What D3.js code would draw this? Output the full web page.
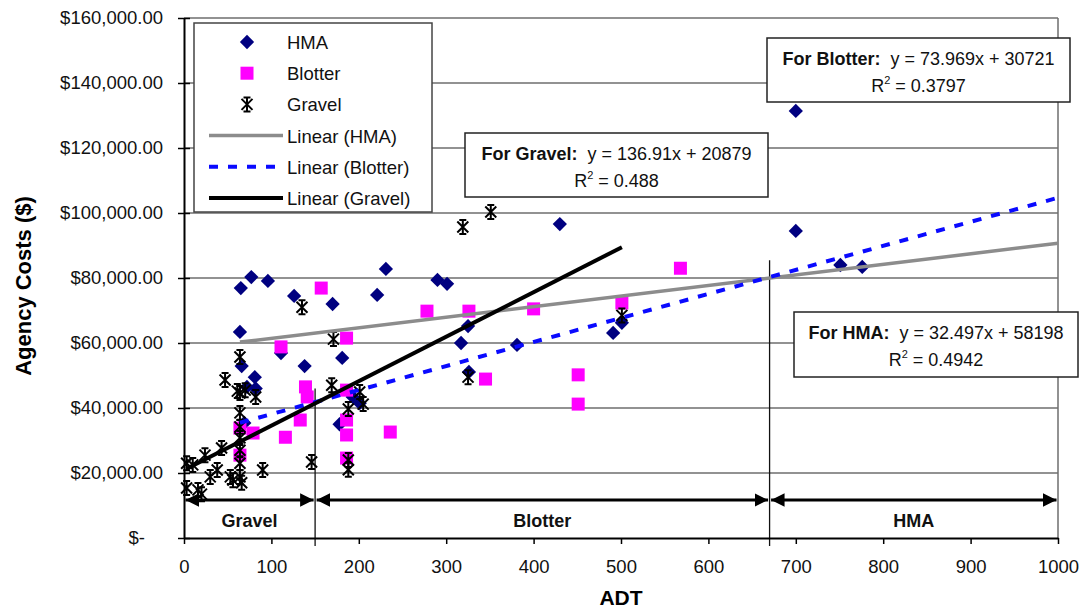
<!DOCTYPE html>
<html>
<head>
<meta charset="utf-8">
<script src="https://cdn.jsdelivr.net/npm/d3@7.9.0/dist/d3.min.js"></script>
<style>
  body { margin: 0; background: #fff; }
  svg { display: block; font-family: Arial, "Liberation Sans", sans-serif; }
</style>
</head>
<body>
<svg id="chart" width="1081" height="611"></svg>
<script>
// [ADT, agency cost in $1000]
const hmaPoints = [
  [77, 80.3], [65, 76.9], [96, 79.1], [126, 74.5], [170, 72], [64, 63.4], [66, 52.9],
  [111, 56.9], [138, 52.9], [81, 49.5], [72, 46.5], [82, 46], [69, 35.4], [231, 82.8],
  [221, 74.8], [290, 79.4], [301, 78.2], [430, 96.6], [181, 55.4], [325, 65.2], [317, 60],
  [381, 59.4], [491, 63.1], [501, 66.2], [326, 51.1], [201, 41.5], [178, 35], [193, 43.4],
  [700, 131.4], [700, 94.5], [751, 84], [776, 83.4]
];
const blotterPoints = [
  [157, 76.9], [111, 58.8], [139, 46.5], [141, 43.4], [133, 36.3], [116, 31], [64, 33.8],
  [79, 32.3], [64, 25.5], [186, 61.5], [186, 45.5], [186, 36.3], [186, 31.7], [186, 24.6],
  [236, 32.6], [278, 69.8], [326, 69.8], [400, 70.5], [345, 48.9], [451, 50.2], [451, 41.2],
  [501, 72.3], [568, 83]
];
const gravelPoints = [
  [3, 23], [3, 15.4], [10, 22.5], [24, 25.5], [43, 27.7], [30, 18.8], [38, 20.9], [53, 18.8],
  [16, 14.8], [20, 13.5], [56, 17.8], [66, 17], [47, 48.6], [61, 45.2], [70, 45.5], [82, 43.4],
  [64, 55.7], [64, 44.6], [64, 38.5], [64, 34.2], [64, 30.8], [64, 27], [64, 23], [64, 18.8],
  [90, 20.9], [135, 71], [146, 23.4], [169, 47], [171, 61.2], [188, 39.7], [188, 24], [188, 21],
  [201, 44.9], [205, 41.2], [325, 49.5], [319, 95.7], [351, 100.3], [501, 68.5]
];

// trendlines: slope, intercept, x range
const trends = [
  { name: 'Linear (HMA)', slope: 32.497, intercept: 58198, from: 64, to: 1000, color: '#8c8c8c', width: 3.5, dash: null },
  { name: 'Linear (Blotter)', slope: 73.969, intercept: 30721, from: 64, to: 1000, color: '#0a0aff', width: 4, dash: '9,10' },
  { name: 'Linear (Gravel)', slope: 136.91, intercept: 20879, from: 3, to: 501, color: '#000', width: 4, dash: null }
];

const yTicks = [0, 20000, 40000, 60000, 80000, 100000, 120000, 140000, 160000];
const xTicks = [0, 100, 200, 300, 400, 500, 600, 700, 800, 900, 1000];

// service ranges along the ADT axis
const zones = [
  { label: 'Gravel', from: 0, to: 150 },
  { label: 'Blotter', from: 150, to: 670 },
  { label: 'HMA', from: 670, to: 1000 }
];
const zoneEdges = [[150, 46000], [670, 85500]];
const zoneArrowY = 11700;

const equations = [
  { label: 'For Gravel:', eq: '  y = 136.91x + 20879', r2: '0.488', box: [465, 133, 303, 64] },
  { label: 'For Blotter:', eq: '  y = 73.969x + 30721', r2: '0.3797', box: [767, 38, 303, 64] },
  { label: 'For HMA:', eq: '  y = 32.497x + 58198', r2: '0.4942', box: [794, 312, 284, 65] }
];

const svg = d3.select('#chart');
const x = d3.scaleLinear().domain([0, 1000]).range([184, 1058]);
const y = d3.scaleLinear().domain([0, 160000]).range([538, 18]);

// gridlines
svg.append('g')
  .selectAll('line')
  .data(yTicks.slice(1))
  .join('line')
  .attr('x1', x(0)).attr('x2', x(1000))
  .attr('y1', d => y(d)).attr('y2', d => y(d))
  .attr('stroke', '#6e6e6e').attr('stroke-width', 1.5);

// right border
svg.append('line')
  .attr('x1', x(1000)).attr('x2', x(1000))
  .attr('y1', y(160000)).attr('y2', y(0))
  .attr('stroke', '#6e6e6e').attr('stroke-width', 1.5);

// zone separators
svg.append('g')
  .selectAll('line')
  .data(zoneEdges)
  .join('line')
  .attr('x1', d => x(d[0])).attr('x2', d => x(d[0]))
  .attr('y1', d => y(d[1])).attr('y2', y(0) + 8)
  .attr('stroke', '#111').attr('stroke-width', 1.3);

// axes
const yAxis = svg.append('g')
  .attr('transform', `translate(${x(0)},0)`)
  .call(d3.axisLeft(y).tickValues(yTicks).tickSizeInner(6).tickSizeOuter(0)
    .tickFormat(d => d === 0 ? '$-' : d3.format('$,.2f')(d)));
yAxis.select('.domain').attr('stroke', '#000').attr('stroke-width', 2);
yAxis.selectAll('.tick line').attr('x2', 6).attr('x1', -6).attr('stroke-width', 1.5);
yAxis.selectAll('.tick text')
  .attr('x', d => d === 0 ? -39 : -21)
  .attr('font-size', 18.5).attr('fill', '#111')
  .attr('font-family', 'Arial, "Liberation Sans", sans-serif');

const xAxis = svg.append('g')
  .attr('transform', `translate(0,${y(0)})`)
  .call(d3.axisBottom(x).tickValues(xTicks).tickSizeInner(6).tickSizeOuter(0).tickFormat(d3.format('d')));
xAxis.select('.domain').attr('stroke', '#000').attr('stroke-width', 2);
xAxis.selectAll('.tick line').attr('stroke-width', 1.5);
xAxis.selectAll('.tick text')
  .attr('y', 22)
  .attr('font-size', 18.5).attr('fill', '#111')
  .attr('font-family', 'Arial, "Liberation Sans", sans-serif');

// axis titles
svg.append('text')
  .attr('transform', `translate(31,${(y(0) + y(160000)) / 2 + 8}) rotate(-90)`)
  .attr('text-anchor', 'middle')
  .attr('font-size', 22).attr('font-weight', 'bold')
  .text('Agency Costs ($)');
svg.append('text')
  .attr('x', 621).attr('y', 605)
  .attr('text-anchor', 'middle')
  .attr('font-size', 21).attr('font-weight', 'bold')
  .text('ADT');

// markers
const diamond = d3.symbol().type(d3.symbolDiamond2).size(130);
const starPath = 'M-5.5,-5.5L5.5,5.5M-5.5,5.5L5.5,-5.5M0,-7V7M-3.5,-7H3.5M-3.5,7H3.5';

svg.append('g')
  .selectAll('path')
  .data(hmaPoints)
  .join('path')
  .attr('d', diamond())
  .attr('transform', d => `translate(${x(d[0])},${y(d[1] * 1000)})`)
  .attr('fill', '#000080');

svg.append('g')
  .selectAll('rect')
  .data(blotterPoints)
  .join('rect')
  .attr('x', d => x(d[0]) - 6.5).attr('y', d => y(d[1] * 1000) - 6.5)
  .attr('width', 13).attr('height', 13)
  .attr('fill', '#ff00ff');

svg.append('g')
  .selectAll('path')
  .data(gravelPoints)
  .join('path')
  .attr('d', starPath)
  .attr('transform', d => `translate(${x(d[0])},${y(d[1] * 1000)})`)
  .attr('fill', 'none').attr('stroke', '#000').attr('stroke-width', 2);

// trendlines
svg.append('g')
  .selectAll('line')
  .data(trends)
  .join('line')
  .attr('x1', d => x(d.from)).attr('y1', d => y(d.slope * d.from + d.intercept))
  .attr('x2', d => x(d.to)).attr('y2', d => y(d.slope * d.to + d.intercept))
  .attr('stroke', d => d.color).attr('stroke-width', d => d.width)
  .attr('stroke-dasharray', d => d.dash);

// zone arrows
const defs = svg.append('defs');
defs.append('marker')
  .attr('id', 'arrow').attr('viewBox', '0 0 10 10')
  .attr('refX', 10).attr('refY', 5)
  .attr('markerWidth', 4.5).attr('markerHeight', 4.5)
  .attr('markerUnits', 'strokeWidth')
  .attr('orient', 'auto-start-reverse')
  .append('path').attr('d', 'M0,0L10,5L0,10z').attr('fill', '#000');

const zoneG = svg.append('g');
zoneG.selectAll('line')
  .data(zones)
  .join('line')
  .attr('x1', d => x(d.from) + 1.5).attr('x2', d => x(d.to) - 1.5)
  .attr('y1', y(zoneArrowY)).attr('y2', y(zoneArrowY))
  .attr('stroke', '#000').attr('stroke-width', 3)
  .attr('marker-start', 'url(#arrow)').attr('marker-end', 'url(#arrow)');
zoneG.selectAll('text')
  .data(zones)
  .join('text')
  .attr('x', d => (x(d.from) + x(d.to)) / 2)
  .attr('y', 527)
  .attr('text-anchor', 'middle')
  .attr('font-size', 18).attr('font-weight', 'bold').attr('fill', '#111')
  .text(d => d.label);

// legend
const legend = svg.append('g');
legend.append('rect')
  .attr('x', 194).attr('y', 23).attr('width', 238).attr('height', 189)
  .attr('fill', '#fff').attr('stroke', '#444').attr('stroke-width', 1.5);
const legendItems = [
  { name: 'HMA', kind: 'diamond' },
  { name: 'Blotter', kind: 'square' },
  { name: 'Gravel', kind: 'star' },
  ...trends.map(t => ({ name: t.name, kind: 'line', t }))
];
legendItems.forEach((d, i) => {
  const cy = 42 + i * 31.2;
  if (d.kind === 'diamond') {
    legend.append('path').attr('d', diamond()).attr('transform', `translate(247,${cy})`).attr('fill', '#000080');
  } else if (d.kind === 'square') {
    legend.append('rect').attr('x', 240.5).attr('y', cy - 6.5).attr('width', 13).attr('height', 13).attr('fill', '#ff00ff');
  } else if (d.kind === 'star') {
    legend.append('path').attr('d', starPath).attr('transform', `translate(247,${cy})`)
      .attr('fill', 'none').attr('stroke', '#000').attr('stroke-width', 2);
  } else {
    legend.append('line').attr('x1', 209).attr('x2', 283).attr('y1', cy).attr('y2', cy)
      .attr('stroke', d.t.color).attr('stroke-width', d.t.width)
      .attr('stroke-dasharray', d.t.dash);
  }
  legend.append('text').attr('x', 287).attr('y', cy + 7)
    .attr('font-size', 18.5).attr('fill', '#111').text(d.name);
});

// equation boxes
equations.forEach(e => {
  const [bx, by, bw, bh] = e.box;
  const g = svg.append('g');
  g.append('rect').attr('x', bx).attr('y', by).attr('width', bw).attr('height', bh)
    .attr('fill', '#fff').attr('stroke', '#222').attr('stroke-width', 1.5);
  const t1 = g.append('text').attr('x', bx + bw / 2).attr('y', by + 27)
    .attr('text-anchor', 'middle').attr('font-size', 18).attr('fill', '#111')
    .attr('xml:space', 'preserve');
  t1.append('tspan').attr('font-weight', 'bold').text(e.label);
  t1.append('tspan').text(e.eq);
  const t2 = g.append('text').attr('x', bx + bw / 2).attr('y', by + 54)
    .attr('text-anchor', 'middle').attr('font-size', 18).attr('fill', '#111');
  t2.append('tspan').text('R');
  t2.append('tspan').attr('font-size', 11).attr('dy', -8).text('2');
  t2.append('tspan').attr('dy', 8).text(' = ' + e.r2);
});
</script>
</body>
</html>
